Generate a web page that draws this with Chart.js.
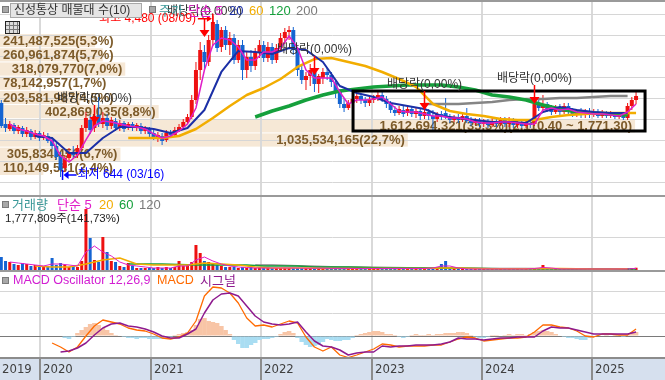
<!DOCTYPE html>
<html><head><meta charset="utf-8">
<script src="https://cdn.jsdelivr.net/npm/chart.js@4.4.1/dist/chart.umd.min.js"></script>
<style>
html,body{margin:0;padding:0;background:#fff;}
#wrap{position:relative;width:665px;height:380px;overflow:hidden;background:#fff;font-family:"Liberation Sans","Noto Sans CJK KR",sans-serif;}
canvas{position:absolute;left:0;}
.t{position:absolute;font-size:13px;line-height:15px;white-space:nowrap;}
.sq{position:absolute;width:5px;height:5px;background:#a8a8a8;border:1px solid #7a7a7a;}
</style></head><body>
<div id="wrap">
<canvas id="cp" width="665" height="195" style="top:0"></canvas>
<canvas id="cv" width="665" height="76" style="top:195px"></canvas>
<canvas id="cm" width="665" height="110" style="top:270px"></canvas>

<div class="sq" style="left:2px;top:6px"></div>
<div class="t" style="left:10px;top:3px;width:127px;height:13px;background:#e5e5e5;border:1px solid #a8a8a8;line-height:13px;padding-left:3px;color:#333;font-size:12px">신성통상 매물대 수(10)</div>
<div class="sq" style="left:149px;top:6px"></div>
<span class="t" style="left:159px;top:3px;color:#3c9a9a">주가</span>
<span class="t" style="left:188px;top:3px;color:#e01ec8">단순 5</span>
<span class="t" style="left:229px;top:3px;color:#1b2fa6">20</span>
<span class="t" style="left:249px;top:3px;color:#f2ad00">60</span>
<span class="t" style="left:269px;top:3px;color:#15a03c">120</span>
<span class="t" style="left:296px;top:3px;color:#7a7a7a">200</span>
<div style="position:absolute;left:5px;top:21px;width:13px;height:11px;border:1px solid #222;background-color:#dcdcdc;background-image:repeating-linear-gradient(90deg,transparent 0 3px,#777 3px 4px),repeating-linear-gradient(0deg,transparent 0 3px,#777 3px 4px);"></div>

<div class="sq" style="left:2px;top:201px"></div>
<span class="t" style="left:12px;top:197px;color:#3a9898">거래량</span>
<span class="t" style="left:57px;top:197px;color:#e01ec8">단순 5</span>
<span class="t" style="left:99px;top:197px;color:#f2ad00">20</span>
<span class="t" style="left:119px;top:197px;color:#15a03c">60</span>
<span class="t" style="left:139px;top:197px;color:#7a7a7a">120</span>
<span id="vlab" class="t" style="left:5px;top:211px;color:#222;font-size:11.5px"></span>

<div class="sq" style="left:2px;top:277px"></div>
<span class="t" style="left:13px;top:273px;color:#d21ed2;font-size:12.5px">MACD Oscillator 12,26,9</span>
<span class="t" style="left:157px;top:273px;color:#ff6a00;font-size:12.5px">MACD</span>
<span class="t" style="left:200px;top:273px;color:#8e1a8e">시그널</span>
</div>
<script>
// ---------- DATA ----------
const firstWeek = 2019.645;      // date (decimal year) of first candle
const periodYears = 0.03833;     // two-week candles
const candleOpen = [2405,1904,1786,1881,1738,1809,1667,1738,1595,1690,
 1571,1619,1524,1381,1143,857,1095,1238,1167,1333,
 1809,2000,1809,2119,1904,2047,1857,1976,1809,1928,
 1809,1904,1833,1857,1738,1786,1690,1595,1619,1524,
 1690,1643,1762,1833,1952,2071,2476,3190,3619,3381,
 3905,4286,3738,4143,3786,3952,3428,3786,3190,3500,
 3286,3619,3786,3476,3738,3428,3714,3952,4095,4143,
 3667,3190,2952,3048,3143,2857,3000,3143,3071,2881,
 2667,2381,2286,2405,2500,2571,2476,2405,2476,2524,
 2595,2500,2381,2238,2167,2238,2167,2262,2143,2214,
 2095,2190,2095,2024,2143,2167,2071,2000,2071,2000,
 2095,1976,1928,1976,1904,1952,1881,1952,1904,2000,
 1904,1976,1881,1952,1857,1928,1904,2381,2286,2381,
 2262,2190,2286,2190,2333,2214,2143,2214,2119,2190,
 2119,2190,2095,2167,2095,2143,2071,2095,2047,2333,
 2476];
const candleHigh = [2476,2047,1976,1928,1881,1857,1833,1786,1762,1738,
 1714,1690,1595,1452,1238,1167,1333,1381,1405,1881,
 2190,2119,2238,2547,2190,2143,2071,2047,2000,1976,
 1952,1952,1928,1928,1857,1833,1762,1714,1690,1762,
 1762,1833,1904,2024,2143,2595,3381,3857,3786,4024,
 4480,4381,4214,4238,4095,4048,3905,3905,3619,3667,
 3714,3905,3881,3857,3833,3810,4071,4190,4238,4214,
 3738,3286,3143,3333,3238,3095,3238,3238,3143,2952,
 2738,2524,2476,2571,2643,2619,2547,2547,2595,2690,
 2667,2571,2452,2333,2333,2357,2357,2333,2286,2286,
 2286,2262,2238,2190,2214,2524,2143,2119,2143,2167,
 2286,2071,2047,2047,2024,2024,2047,2024,2071,2071,
 2071,2047,2024,2000,2000,1976,2428,2476,2595,2428,
 2357,2357,2381,2405,2405,2286,2262,2286,2262,2286,
 2262,2262,2238,2214,2214,2190,2190,2167,2405,2547,
 2690];
const candleLow = [1809,1714,1738,1667,1667,1595,1595,1524,1548,1500,
 1524,1452,1310,1048,644,762,1000,1071,1095,1286,
 1714,1667,1714,1833,1809,1762,1786,1738,1738,1714,
 1762,1738,1738,1667,1667,1595,1524,1476,1405,1476,
 1571,1595,1714,1786,1904,2024,2381,2952,3190,3286,
 3762,3619,3619,3667,3548,3333,3357,2952,3000,3143,
 3190,3476,3381,3381,3333,3357,3619,3810,3905,3548,
 3048,2857,2714,2810,2667,2643,2857,2952,2786,2524,
 2286,2190,2238,2333,2405,2381,2309,2333,2405,2452,
 2428,2286,2167,2095,2119,2071,2095,2071,2047,2000,
 2024,2000,1714,1952,2000,2024,1928,1952,1928,1952,
 1928,1857,1881,1833,1833,1809,1833,1833,1857,1833,
 1833,1809,1809,1809,1809,1809,1857,2214,2238,2190,
 2119,2143,2119,2143,2095,2071,2071,2047,2047,2047,
 2071,2047,2047,2047,2047,2024,2024,2000,2000,2238,
 2381];
const candleClose = [1857,1809,1904,1738,1833,1667,1762,1595,1690,1571,
 1643,1500,1381,1119,809,1095,1238,1167,1333,1809,
 2047,1762,2095,1904,2047,1857,2000,1809,1928,1786,
 1904,1809,1881,1738,1786,1667,1595,1643,1500,1690,
 1643,1762,1833,1952,2071,2476,3190,3667,3381,3905,
 4333,3714,4143,3786,3952,3428,3786,3190,3500,3286,
 3619,3786,3476,3738,3428,3714,3952,4095,4143,3667,
 3190,2952,3048,3190,2857,3048,3143,3071,2905,2667,
 2381,2286,2405,2500,2571,2476,2405,2476,2524,2595,
 2500,2381,2238,2167,2262,2143,2262,2143,2214,2095,
 2190,2095,2024,2143,2071,2071,2000,2071,2000,2095,
 1976,1928,2000,1904,1952,1881,1952,1904,2000,1904,
 1976,1881,1952,1857,1928,1881,2381,2286,2381,2262,
 2190,2286,2190,2333,2214,2143,2214,2119,2190,2119,
 2190,2095,2167,2095,2143,2071,2119,2047,2333,2476,
 2571];
// price moving averages (sampled: start index, step)
const priceMA5 = [1904,1786,1738,1667,1619,1500,1143,1000,1167,1524,
 1857,1976,1952,1904,1857,1833,1786,1667,1571,1619,
 1738,1904,2286,3190,3786,3952,3905,3738,3428,3428,
 3619,3619,3714,4000,3714,3190,3000,3000,3000,2667,
 2381,2476,2476,2500,2547,2381,2214,2190,2190,2143,
 2095,2095,2047,2047,2024,1952,1928,1928,1952,1952,
 1928,1904,1904,2238,2286,2238,2262,2190,2167,2143,
 2143,2119,2095,2190,2381];
const priceMA20 = [1619,1571,1214,1214,1571,1833,1833,1786,1690,1809,
 2238,3143,3643,3619,3571,3714,3667,3381,2810,2643,
 2547,2405,2333,2262,2095,2047,2000,1952,1952,1928,
 2190,2309,2238,2190,2167,2167];
const priceMA60 = [1571,1571,1571,1619,1786,2047,2333,2595,2762,2976,
 3262,3452,3476,3381,3286,3143,2976,2786,2381,2214,
 2143,2095,2024,2000,2000,2071,2119,2143,2167,2167,
 2167];
const priceMA120 = [2071,2214,2333,2476,2595,2690,2738,2786,2810,2833,
 2833,2833,2786,2714,2595,2547,2476,2357,2262,2190,
 2167,2143,2119];
const priceMA200 = [2381,2381,2381,2405,2428,2476,2500,2500,2524,2524,2547,2571,2571];
// volume (thousand shares)
const volume = [10140,7020,6240,4680,3900,5460,4680,3120,3900,2340,
 2340,3120,9360,3900,5460,3900,2340,3120,2340,7020,
 47580,24960,7800,6240,25740,14040,7020,6240,3120,2340,
 5460,3120,1560,1560,1560,1560,1560,2340,1560,2340,
 1560,2340,7020,3120,3900,6240,19500,13260,7020,6240,
 5460,3900,3120,2340,2340,2340,1560,2340,1560,2340,
 1560,1560,1560,1560,1560,1560,1560,1560,1560,1560,
 1560,1560,1560,1560,1560,1560,1560,1560,1560,1560,
 1560,1170,1170,1170,1170,1170,1170,1170,1170,1170,
 1170,1170,1170,1170,1170,1170,1170,1170,1170,1170,
 1170,1170,1560,1560,4680,7020,1560,780,780,780,
 780,780,780,780,780,780,780,780,780,780,
 780,780,780,780,780,780,1560,1560,3900,1560,
 780,780,780,780,780,780,780,780,780,1560,
 780,780,780,780,780,780,780,780,1170,1560,
 1778];
const volMA5 = [6240,5460,4680,3900,3120,4680,4680,3900,3120,14040,
 18720,14040,10920,6240,3900,3120,2340,1560,1560,1560,
 3120,3120,7800,10140,7020,4680,3120,2340,1950,1560,
 1560,1560,1560,1560,1560,1404,1404,1404,1248,1248,
 1248,1170,1170,1170,1170,1170,1170,1170,1170,
 1170,1560,3120,3120,1560,
 780,780,780,780,780,780,780,780,
 1170,1950,1560,
 780,780,780,780,780,780,780,780,
 780,1248];
const volMA20 = [3120,2340,2340,4680,7800,9360,4680,3900,3900,3900,
 5460,4680,3900,2340,1560,1560,1560,1170,1170,1170,
 1170,1170,1170,1170,1560,1560,1170,1014,1014,936,
 1170,1170,936,858,858,936];
const volMA60 = [4680,4680,4680,4290,3900,3900,3900,3900,3120,3120,
 3120,2340,2340,2340,1950,1560,1560,1560,1560,1404,
 1404,1170,1014,936,936,936,858,780,780,780,
 780];
const volMA120 = [3900,3900,3510,3120,2730,2340,2340,2106,1950,1716,
 1560,1560,1560,1404,1248,1170,1092,1014,936,936,
 858,858,780];
const lastVolume = 1777809, lastVolumeRatio = 141.73;
// MACD 12,26,9
const macdLine = [-70,-110,-160,-110,0,100,160,140,120,80,
 60,50,20,-20,-30,-10,30,150,400,490,
 480,430,330,180,100,110,90,120,150,130,
 -10,-110,-150,-110,-190,-215,-190,-160,-130,-80,
 -90,-110,-100,-100,-100,-90,-90,-60,-30,-10,
 -20,-50,-40,-30,-20,-20,-10,40,110,110,
 90,80,50,0,-10,20,20,10,10,70];
const macdSignal = [-160,-150,-120,-70,10,80,120,130,100,90,
 70,40,0,-20,-20,20,70,230,360,420,
 430,400,300,200,140,120,110,120,140,40,
 -50,-100,-110,-140,-190,-170,-160,-160,-100,-110,
 -100,-100,-90,-90,-90,-80,-60,-20,-30,-30,
 -40,-30,-20,-20,-10,-10,-10,50,90,80,
 80,60,40,20,20,20,20,20,40];
const macdOsc = [null,null,null,null,null,null,null,null,null,null,
 null,null,null,null,null,-20,-30,-10,30,60,
 90,120,130,110,80,60,30,10,0,-10,
 -20,-20,-30,-20,-20,-30,-30,-30,-30,-10,
 -10,10,20,30,40,60,110,170,180,150,
 140,130,100,60,20,-40,-80,-120,-120,-90,
 -70,-40,-30,-30,-20,-10,20,40,50,30,
 -20,-60,-90,-110,-100,-90,-60,-30,-40,-50,
 -50,-40,-40,-20,10,20,30,40,50,50,
 40,20,20,10,-10,-20,-10,10,20,10,
 10,20,10,20,20,30,30,30,40,40,
 30,10,-10,-20,-20,-10,10,10,0,10,
 20,10,20,20,10,20,40,50,60,50,
 40,20,0,-10,-20,-20,-30,-40,-40,-20,
 -10,10,0,10,0,10,0,-10,10,30,
 40];
// volume profile (매물대), bottom to top
const profileLow  = [690,1028,1366,1704,2042,2380,2718,3056,3394,3732];
const profileHigh = [1028,1366,1704,2042,2380,2718,3056,3394,3732,4070];
const profileVolume = [110149581,305834450,1035534165,1612694321,402869035,203581987,78142957,318079770,260961874,241487525];
const profilePct = [2.4,6.7,22.7,35.3,8.8,4.5,1.7,7.0,5.7,5.3];
const profileRangeHigh = 2110.40, profileRangeLow = 1771.30;
// dividend ex-dates (candle index, marker tip price, rate %)
const dividendMarks = [{i:22,price:1905,rate:0},{i:48,price:3976,rate:0},{i:74,price:3071,rate:0},{i:100,price:2238,rate:0},{i:126,price:2381,rate:0}];
const highDate = '08/09', lowDate = '03/16';
// highlighted box (dates, prices)
const boxRange = {from:2022.831, to:2025.476, hi:2690, lo:1738};
// axes
const xMin = 2019.6332, xMax = 2025.6567;
const yearTicks = [2020,2021,2022,2023,2024,2025];
const priceMin = 214.05, priceMax = 4809.4;
const priceGrid = [500,1000,1500,2000,2500,3000,3500,4000,4500];
const volMax = 56940, volGrid = [25000];
const macdMin = -220, macdMax = 640, macdGrid = [-210,0,230,440];

// ---------- helpers ----------
const dates = candleOpen.map((_, i) => firstWeek + i * periodYears);
const series = (vals, from, step) => vals.map((v, k) => ({x: dates[from + k * step], y: v}));
const upC = '#ee1111', dnC = '#1464d2';
const candleColors = candleClose.map((c, i) => c >= candleOpen[i] ? upC : dnC);
function krFmt(n, d) {
  const s = n.toFixed(d).split('.');
  const int = s[0].replace(/\B(?=(\d{3})+(?!\d))/g, ',');
  return d ? int + ',' + s[1] : int;
}
document.getElementById('vlab').textContent = krFmt(lastVolume,0) + '주(' + krFmt(lastVolumeRatio,2) + '%)';

const KFONT = '"Liberation Sans","Noto Sans CJK KR",sans-serif';
function xAxis() {
  return {type:'linear', min:xMin, max:xMax, offset:false, display:true,
    ticks:{display:false}, border:{display:false},
    grid:{color:'#d9d9d9', lineWidth:2, drawTicks:false, offset:false},
    afterBuildTicks: s => { s.ticks = yearTicks.map(v => ({value:v})); }};
}
function yAxis(min, max, grid, colorFn) {
  return {type:'linear', min, max, display:true, position:'left',
    ticks:{display:false}, border:{display:false},
    grid:{color: colorFn || '#d6d6d6', lineWidth:1, drawTicks:false},
    afterBuildTicks: s => { s.ticks = grid.map(v => ({value:v})); }};
}
const base = {responsive:false, animation:false, devicePixelRatio:1, events:[],
  plugins:{legend:{display:false}, tooltip:{enabled:false}},
  elements:{point:{radius:0}, line:{tension:0, borderJoinStyle:'round'}, bar:{inflateAmount:0}}};
const line = (data, color, w, order) => ({type:'line', data, borderColor:color, borderWidth:w, order, fill:false, spanGaps:true});

// ---------- price pane ----------
const pricePlugin = {
  id:'pricePane',
  beforeDraw(c) {
    const {ctx, chartArea:a, scales:{y}} = c;
    const maxV = Math.max(...profileVolume);
    ctx.save(); ctx.fillStyle = '#f6e8d6';
    profileVolume.forEach((v, k) => {
      const top = y.getPixelForValue(profileHigh[k]), bot = y.getPixelForValue(profileLow[k]);
      ctx.fillRect(a.left, top + 1, (a.right - a.left) * 0.955 * v / maxV, bot - top - 1);
    });
    ctx.restore();
  },
  beforeDatasetsDraw(c) {
    const {ctx, chartArea:a, scales:{y}} = c;
    const maxV = Math.max(...profileVolume);
    ctx.save();
    ctx.font = 'bold 13px "Liberation Sans",sans-serif';
    ctx.fillStyle = '#7d5b2a'; ctx.textBaseline = 'middle';
    profileVolume.forEach((v, k) => {
      const top = y.getPixelForValue(profileHigh[k]), bot = y.getPixelForValue(profileLow[k]);
      const w = (a.right - a.left) * 0.955 * v / maxV;
      let txt = krFmt(v,0) + '(' + krFmt(profilePct[k],1) + '%)';
      if (v === maxV) txt += '(' + krFmt(profileRangeHigh,2) + ' ~ ' + krFmt(profileRangeLow,2) + ')';
      const tw = ctx.measureText(txt).width;
      ctx.fillText(txt, Math.max(a.left + 3, a.left + w - 3 - tw), (top + bot) / 2 + 1);
    });
    ctx.restore();
  },
  afterDatasetsDraw(c) {
    const {ctx, scales:{x, y}} = c;
    ctx.save();
    // box
    ctx.strokeStyle = '#000'; ctx.lineWidth = 3;
    const bx1 = x.getPixelForValue(boxRange.from), bx2 = x.getPixelForValue(boxRange.to);
    const by1 = y.getPixelForValue(boxRange.hi), by2 = y.getPixelForValue(boxRange.lo);
    ctx.strokeRect(bx1, by1, bx2 - bx1, by2 - by1);
    // dividend marks
    dividendMarks.forEach(m => {
      const px = Math.round(x.getPixelForValue(dates[m.i])) + 0.5, py = y.getPixelForValue(m.price);
      ctx.strokeStyle = '#ff0000'; ctx.fillStyle = '#ff0000'; ctx.lineWidth = 1.5;
      ctx.beginPath(); ctx.moveTo(px, py - 19); ctx.lineTo(px, py - 6); ctx.stroke();
      ctx.beginPath(); ctx.moveTo(px - 5, py - 7); ctx.lineTo(px + 5, py - 7); ctx.lineTo(px, py); ctx.closePath(); ctx.fill();
      ctx.font = '12px ' + KFONT; ctx.fillStyle = '#333'; ctx.textAlign = 'center'; ctx.textBaseline = 'bottom';
      ctx.fillText('배당락(' + krFmt(m.rate,2) + '%)', px, py - 19);
    });
    // high
    const hv = Math.max(...candleHigh), hi = candleHigh.indexOf(hv);
    const hx = x.getPixelForValue(dates[hi]), hy = y.getPixelForValue(hv) + 3;
    ctx.strokeStyle = ctx.fillStyle = '#ff0000'; ctx.lineWidth = 1.5;
    ctx.beginPath(); ctx.moveTo(hx - 15, hy); ctx.lineTo(hx - 4, hy); ctx.moveTo(hx, hy - 5); ctx.lineTo(hx, hy + 5); ctx.stroke();
    ctx.beginPath(); ctx.moveTo(hx - 6, hy - 3); ctx.lineTo(hx - 1, hy); ctx.lineTo(hx - 6, hy + 3); ctx.closePath(); ctx.fill();
    ctx.font = '12px ' + KFONT; ctx.textAlign = 'right'; ctx.textBaseline = 'middle';
    ctx.fillText('최고 ' + krFmt(hv,0) + ' (' + highDate + ')', hx - 17, hy);
    // low
    const lv = Math.min(...candleLow), li = candleLow.indexOf(lv);
    const lx = x.getPixelForValue(dates[li]) + 2, ly = y.getPixelForValue(lv) - 2;
    ctx.strokeStyle = ctx.fillStyle = '#0000ff';
    ctx.beginPath(); ctx.moveTo(lx + 4, ly); ctx.lineTo(lx + 14, ly); ctx.moveTo(lx, ly - 5); ctx.lineTo(lx, ly + 5); ctx.stroke();
    ctx.beginPath(); ctx.moveTo(lx + 6, ly - 4); ctx.lineTo(lx + 1, ly); ctx.lineTo(lx + 6, ly + 4); ctx.closePath(); ctx.fill();
    ctx.textAlign = 'left';
    ctx.fillText('최저 ' + krFmt(lv,0) + ' (' + lowDate + ')', lx + 15, ly);
    ctx.restore();
  },
  afterDraw(c) { const {ctx} = c; ctx.save(); ctx.fillStyle = '#9a9a9a'; ctx.fillRect(0, 0, c.width, 2); ctx.restore(); }
};
new Chart(document.getElementById('cp'), {
  type:'bar',
  data:{datasets:[
    line(series(priceMA5, 2, 2), '#e01ec8', 1.5, 1),
    line(series(priceMA20, 8, 4), '#1b2fa6', 2, 2),
    line(series(priceMA60, 30, 4), '#f2ad00', 2.5, 3),
    line(series(priceMA120, 60, 4), '#15a03c', 3.5, 4),
    line(series(priceMA200, 100, 4), '#858585', 2.5, 5),
    {data: dates.map((t, i) => ({x:t, y:[candleLow[i], candleHigh[i]]})), backgroundColor:candleColors, barThickness:1, grouped:false, order:21},
    {data: dates.map((t, i) => ({x:t, y:[candleOpen[i], candleClose[i]]})), backgroundColor:candleColors, barThickness:4, grouped:false, order:20}
  ]},
  options:Object.assign({}, base, {layout:{padding:{top:2, bottom:0, left:0, right:0}},
    scales:{x:xAxis(), y:yAxis(priceMin, priceMax, priceGrid)}}),
  plugins:[pricePlugin]
});

// ---------- volume pane ----------
const borderPlugin = {id:'paneBorder', afterDraw(c){ const {ctx} = c; ctx.save(); ctx.fillStyle = '#9a9a9a'; ctx.fillRect(0, 0, c.width, 2); ctx.restore(); }};
new Chart(document.getElementById('cv'), {
  type:'bar',
  data:{datasets:[
    line(series(volMA5, 2, 2), '#e01ec8', 1, 1),
    line(series(volMA20, 8, 4), '#f2ad00', 1.5, 2),
    line(series(volMA60, 30, 4), '#15a03c', 1.5, 3),
    line(series(volMA120, 60, 4), '#858585', 1.5, 4),
    {data: dates.map((t, i) => ({x:t, y:volume[i]})), backgroundColor:candleColors, barThickness:3, grouped:false, order:20}
  ]},
  options:Object.assign({}, base, {layout:{padding:{top:2, bottom:1, left:0, right:0}},
    scales:{x:xAxis(), y:yAxis(0, volMax, volGrid)}}),
  plugins:[borderPlugin]
});

// ---------- MACD pane ----------
const macdPlugin = {
  id:'macdPane',
  afterDraw(c) {
    const {ctx, chartArea:a, scales:{x}} = c;
    ctx.save();
    ctx.fillStyle = '#9a9a9a'; ctx.fillRect(0, 0, c.width, 2);
    ctx.fillStyle = '#d6e0ee'; ctx.fillRect(0, a.bottom, c.width, c.height - a.bottom);
    ctx.fillStyle = '#8c8c8c'; ctx.fillRect(0, a.bottom - 1, c.width, 2);
    ctx.font = '13px "Liberation Sans Narrow","DejaVu Sans Condensed","Liberation Sans",sans-serif';
    ctx.textBaseline = 'middle'; ctx.textAlign = 'left'; ctx.fillStyle = '#404040';
    const midY = (a.bottom + c.height) / 2 + 1;
    ctx.fillText(String(Math.floor(xMin)), 2, midY);
    yearTicks.forEach(v => {
      const px = Math.round(x.getPixelForValue(v));
      ctx.fillStyle = '#8c8c8c'; ctx.fillRect(px - 1, a.bottom, 2, c.height - a.bottom);
      ctx.fillStyle = '#404040'; ctx.fillText(String(v), px + 3, midY);
    });
    ctx.restore();
  }
};
new Chart(document.getElementById('cm'), {
  type:'bar',
  data:{datasets:[
    line(series(macdLine, 12, 2), '#ff6a00', 1.3, 2),
    line(series(macdSignal, 14, 2), '#8e1a8e', 1.5, 1),
    {data: dates.map((t, i) => ({x:t, y:macdOsc[i]})), backgroundColor: macdOsc.map(v => v >= 0 ? '#f8c5a6' : '#a9ddf2'), barThickness:4.6, grouped:false, order:20}
  ]},
  options:Object.assign({}, base, {layout:{padding:{top:2, bottom:22, left:0, right:0}},
    scales:{x:xAxis(), y:yAxis(macdMin, macdMax, macdGrid, ctx => ctx.tick && ctx.tick.value === 0 ? '#7a7a7a' : '#d6d6d6')}}),
  plugins:[macdPlugin]
});
</script>
</body></html>
